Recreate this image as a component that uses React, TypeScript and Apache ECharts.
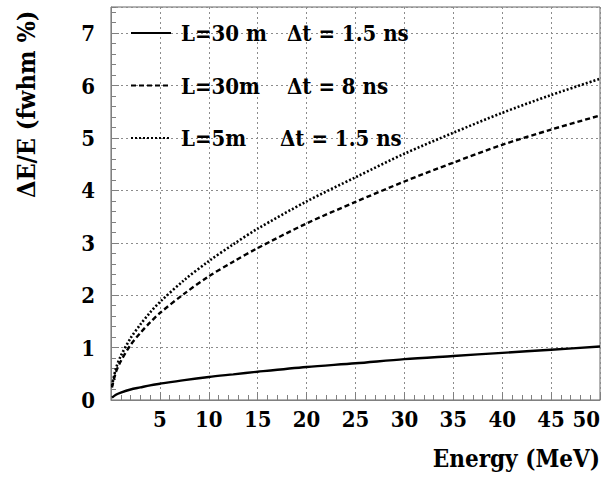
import React, { useEffect, useRef } from "react";
import * as echarts from "echarts";

const energies = [0.1, 0.5, 1, 2, 3, 4, 5, 7.5, 10, 12.5, 15, 20, 25, 30, 35, 40, 45, 50];
const res30m15ns = [0.045, 0.10, 0.14, 0.20, 0.24, 0.28, 0.31, 0.38, 0.44, 0.49, 0.54, 0.63, 0.70, 0.78, 0.84, 0.90, 0.96, 1.02];
const res30m8ns = [0.24, 0.53, 0.74, 1.05, 1.28, 1.48, 1.66, 2.03, 2.36, 2.64, 2.90, 3.37, 3.78, 4.17, 4.53, 4.87, 5.16, 5.43];
const res5m15ns = [0.27, 0.60, 0.84, 1.18, 1.44, 1.67, 1.87, 2.29, 2.65, 2.97, 3.27, 3.79, 4.25, 4.70, 5.10, 5.48, 5.82, 6.13];
const seriesNames = ["L=30 m  Δt = 1.5 ns", "L=30m   Δt = 8 ns", "L=5m    Δt = 1.5 ns"];
const xTitle = "Energy (MeV)";
const yTitle = "ΔE/E (fwhm %)";

const FONT = "DejaVu Serif Condensed, DejaVu Serif";

export default function App() {
  const ref = useRef<HTMLDivElement>(null);
  useEffect(() => {
    if (!ref.current) return;
    const chart = echarts.init(ref.current, undefined, { renderer: "svg" });
    const pairs = (ys: number[]) => energies.map((x, i) => [x, ys[i]]);
    const line = (name: string, ys: number[], type: any, width: number) => ({
      name,
      type: "line",
      data: pairs(ys),
      smooth: 0.3,
      showSymbol: false,
      symbol: "none",
      color: "#000",
      lineStyle: { color: "#000", width, type },
    });
    const legendParts = (name: string) => {
      const i = name.indexOf("Δ");
      return [name.slice(0, i).trim(), name.slice(i)];
    };
    const grid = { left: 111, right: 16, top: 7, bottom: 79 };
    const txt = { fontFamily: FONT, fontWeight: "bold", fontSize: 22, color: "#000" };
    chart.setOption({
      animation: false,
      backgroundColor: "#fff",
      grid: [
        { ...grid, show: true, borderColor: "#666", borderWidth: 1 },
        { ...grid, show: false },
      ],
      legend: {
        orient: "vertical",
        left: 125,
        top: 13,
        itemWidth: 40,
        itemHeight: 30,
        itemGap: 22.5,
        itemStyle: { opacity: 0 },
        data: seriesNames,
        formatter: (name: string) => {
          const [a, b] = legendParts(name);
          const key = name.startsWith("L=5m") ? "c" : "a";
          return `{${key}|${a}}{b|${b}}`;
        },
        textStyle: {
          ...txt,
          lineHeight: 30,
          padding: [0, 0, 0, 5],
          rich: {
            a: { ...txt, width: 106 },
            c: { ...txt, width: 99 },
            b: { ...txt },
          },
        },
      },
      xAxis: [
        {
          type: "value",
          gridIndex: 0,
          min: 0,
          max: 50,
          interval: 5,
          axisLine: { show: true, lineStyle: { color: "#808080", width: 1 } },
          axisTick: { show: true, inside: true, length: 8, lineStyle: { color: "#808080" } },
          minorTick: { show: true, splitNumber: 5, length: 5, lineStyle: { color: "#808080" } },
          splitLine: { show: true, lineStyle: { color: "#8c8c8c", type: [2, 3], width: 1 } },
          axisLabel: {
            show: true,
            showMinLabel: false,
            alignMaxLabel: "right",
            margin: 8,
            fontFamily: FONT,
            fontWeight: "bold",
            fontSize: 22,
            color: "#000",
          },
        },
        { type: "value", gridIndex: 1, min: 0, max: 50, show: false },
      ],
      yAxis: [
        {
          type: "value",
          gridIndex: 0,
          min: 0,
          max: 7.5,
          interval: 1,
          axisLine: { show: true, lineStyle: { color: "#808080", width: 1 } },
          axisTick: { show: true, inside: true, length: 8, lineStyle: { color: "#808080" } },
          splitLine: { show: true, lineStyle: { color: "#8c8c8c", type: [2, 3], width: 1 } },
          axisLabel: {
            show: true,
            showMaxLabel: false,
            margin: 16,
            fontFamily: FONT,
            fontWeight: "bold",
            fontSize: 22,
            color: "#000",
            formatter: (v: number) => (Number.isInteger(v) ? String(v) : ""),
          },
        },
        {
          type: "value",
          gridIndex: 1,
          min: 0,
          max: 7.5,
          interval: 0.2,
          position: "left",
          axisLine: { show: false },
          axisTick: { show: true, inside: true, length: 5, lineStyle: { color: "#808080" } },
          splitLine: { show: false },
          axisLabel: { show: false },
        },
      ],
      graphic: [
        {
          type: "text",
          x: 600,
          y: 458,
          style: { text: xTitle, align: "right", verticalAlign: "middle", ...txt, fontSize: 24, fill: "#000" },
        },
        {
          type: "text",
          x: 26,
          y: 198,
          rotation: Math.PI / 2,
          style: { text: yTitle, align: "left", verticalAlign: "middle", ...txt, fontSize: 25, fill: "#000" },
        },
      ],
      series: [
        line(seriesNames[0], res30m15ns, "solid", 2.4),
        line(seriesNames[1], res30m8ns, [5, 3], 2.4),
        line(seriesNames[2], res5m15ns, [2, 2], 2.6),
      ],
    });
    return () => chart.dispose();
  }, []);
  return <div ref={ref} style={{ width: 616, height: 479, position: "absolute", left: 0, top: 0 }} />;
}
